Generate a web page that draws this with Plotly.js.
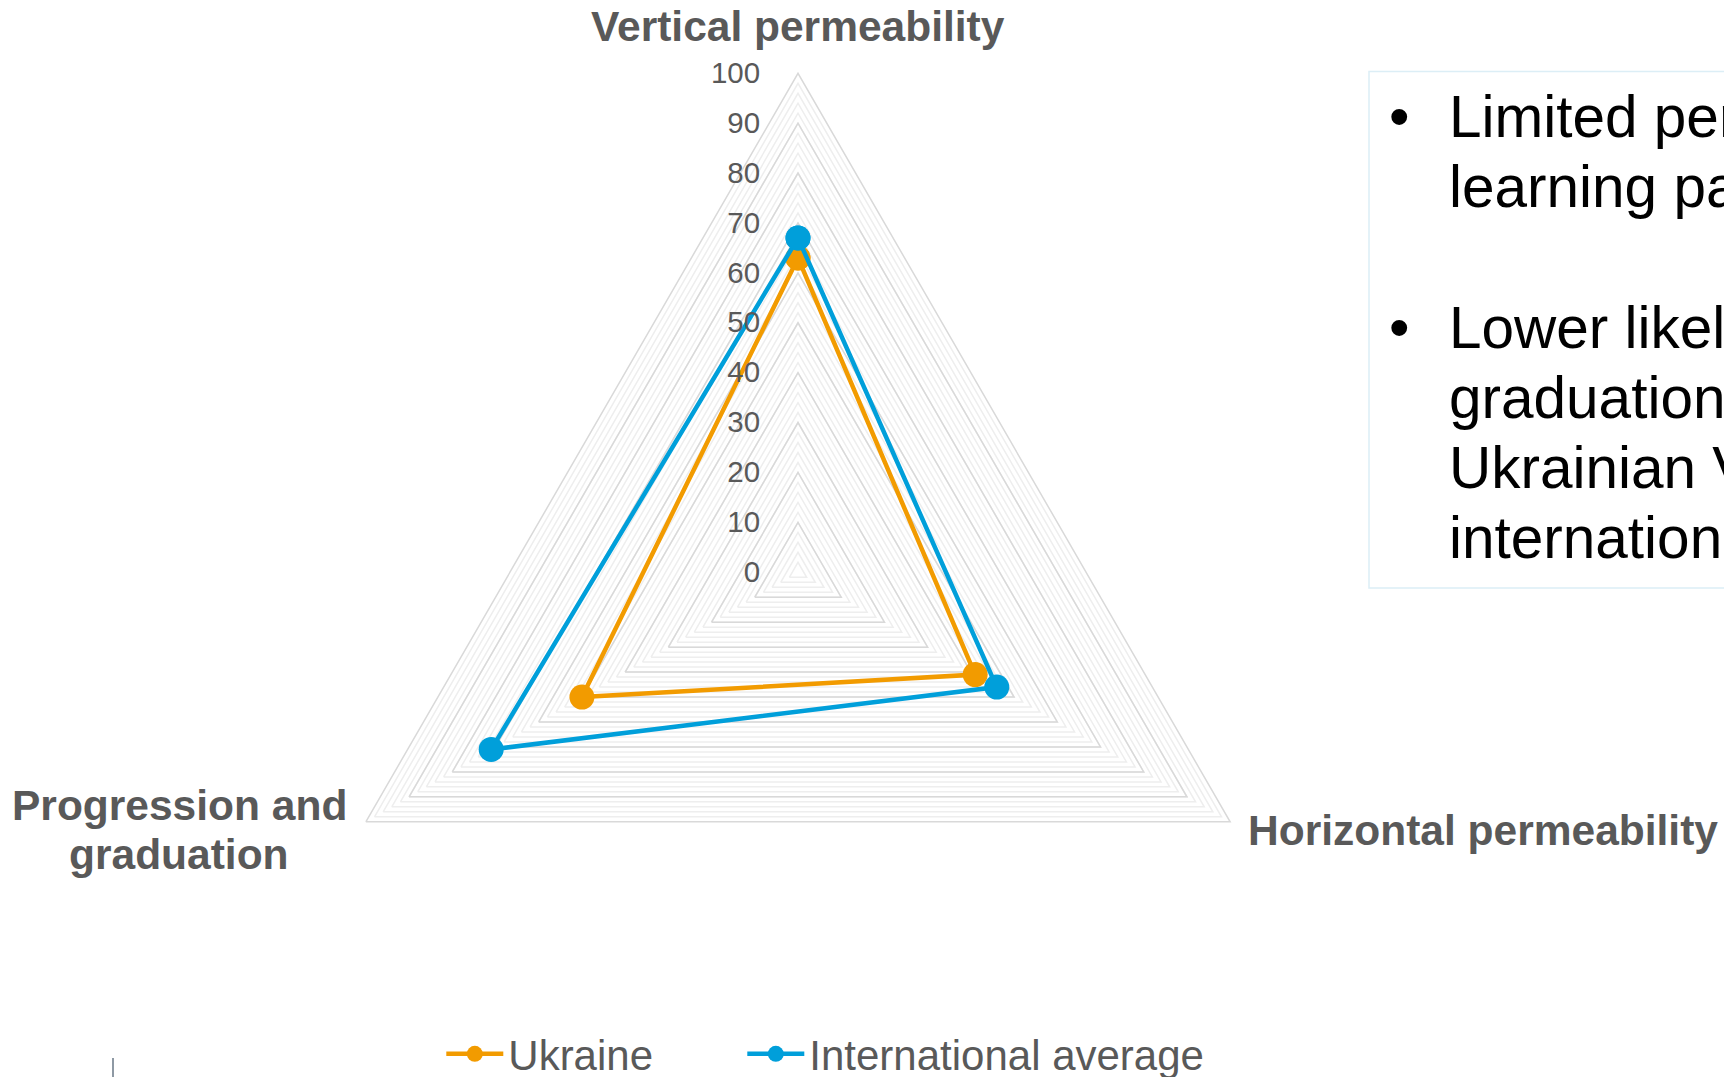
<!DOCTYPE html>
<html>
<head>
<meta charset="utf-8">
<script src="https://cdn.plot.ly/plotly-3.0.1.min.js"></script>
<style>
  html, body { margin: 0; padding: 0; background: #ffffff; overflow: hidden; }
  #chart { width: 1724px; height: 1077px; }
</style>
</head>
<body>
<div id="chart"></div>
<script>
// ---- data ----
const categories = ['Vertical permeability', 'Horizontal permeability', 'Progression and graduation'];
const categoryLabelLines = [['Vertical permeability'], ['Horizontal permeability'], ['Progression and', 'graduation']];
const seriesNames = ['Ukraine', 'International average'];
const ukraine = [63, 41, 50];
const internationalAverage = [67, 46, 71];
const radialTickValues = [0, 10, 20, 30, 40, 50, 60, 70, 80, 90, 100];
const noteLines = [
  'Limited permeability of',
  'learning pathways',
  '',
  'Lower likelihood of',
  'graduation among',
  'Ukrainian VET students than',
  'international average'
];

// ---- page geometry ----
const W = 1724, H = 1077;
const CX = 798, CY = 572.3, R = 499;          // centre and radius of the radar, in px
const px = x => x / W;
const py = y => 1 - y / H;
const domain = { x: [px(CX - R), px(CX + R)], y: [py(CY + R), py(CY - R)] };

const FONT = 'Liberation Sans, Arial, Helvetica, sans-serif';
const GREY_TEXT = '#595959';
const ORANGE = '#F29B00';
const BLUE = '#009FDA';

const closeLoop = arr => arr.concat([arr[0]]);

const traces = [
  // holder for the fine grid subplot (no visible marks)
  {
    type: 'scatterpolar', subplot: 'polar',
    r: categories.map(() => null), theta: categories,
    mode: 'lines', hoverinfo: 'skip', showlegend: false
  },
  {
    type: 'scatterpolar', subplot: 'polar2', name: seriesNames[0], legend: 'legend',
    r: closeLoop(ukraine), theta: closeLoop(categories),
    mode: 'lines+markers',
    line: { color: ORANGE, width: 4.5 },
    marker: { color: ORANGE, size: 25 }
  },
  {
    type: 'scatterpolar', subplot: 'polar2', name: seriesNames[1], legend: 'legend2',
    r: closeLoop(internationalAverage), theta: closeLoop(categories),
    mode: 'lines+markers',
    line: { color: BLUE, width: 4.5 },
    marker: { color: BLUE, size: 25 }
  }
];

const angularBase = {
  type: 'category', categoryorder: 'array', categoryarray: categories,
  rotation: 90, direction: 'clockwise',
  showgrid: false, showticklabels: false, ticks: ''
};

const annotations = [];
// category labels around the radar, one annotation per text line
const catPos = [
  { x: 797.7, ys: [26.5], xanchor: 'center' },
  { x: 1246, ys: [830], xanchor: 'left' },
  { x: 179, ys: [805, 854], xanchor: 'center' }
];
categoryLabelLines.forEach((lines, i) => {
  lines.forEach((t, j) => {
    annotations.push({
      xref: 'paper', yref: 'paper', showarrow: false,
      x: px(catPos[i].x), y: py(catPos[i].ys[j]), xanchor: catPos[i].xanchor, yanchor: 'middle',
      text: '<b>' + t + '</b>',
      font: { family: FONT, size: 42.5, color: GREY_TEXT }
    });
  });
});
// note box text, one line at a time with bullets on paragraph starts
const noteTop = 116.5, noteStep = 70.2;
noteLines.forEach((t, i) => {
  if (!t) return;
  const midY = noteTop + i * noteStep;
  annotations.push({
    xref: 'paper', yref: 'paper', showarrow: false,
    x: px(1447), y: py(midY), xanchor: 'left', yanchor: 'middle',
    text: t, font: { family: FONT, size: 58.5, color: '#000000' }
  });
  if (i === 0 || noteLines[i - 1] === '') {
    annotations.push({
      xref: 'paper', yref: 'paper', showarrow: false,
      x: px(1399), y: py(midY), xanchor: 'center', yanchor: 'middle',
      text: '\u2022', font: { family: FONT, size: 58.5, color: '#000000' }
    });
  }
});

const legendCommon = {
  orientation: 'h', xanchor: 'left', y: py(1020), yanchor: 'top',
  font: { family: FONT, size: 42, color: GREY_TEXT },
  itemwidth: 57, bgcolor: 'rgba(0,0,0,0)', borderwidth: 0
};

const layout = {
  width: W, height: H,
  margin: { l: 0, r: 0, t: 0, b: 0, autoexpand: false },
  paper_bgcolor: '#ffffff',
  font: { family: FONT, color: GREY_TEXT },
  showlegend: true,
  legend: Object.assign({}, legendCommon, { x: px(441.3) }),
  legend2: Object.assign({}, legendCommon, { x: px(742.3) }),
  polar: {
    domain: domain, gridshape: 'linear', bgcolor: '#ffffff',
    radialaxis: {
      range: [0, 100], tick0: 0, dtick: 2, showgrid: true,
      gridcolor: '#eeeeee', gridwidth: 1.5,
      showline: false, showticklabels: false, ticks: ''
    },
    angularaxis: Object.assign({}, angularBase, { showline: false })
  },
  polar2: {
    domain: domain, gridshape: 'linear', bgcolor: 'rgba(0,0,0,0)',
    radialaxis: {
      range: [0, 100], tickmode: 'array', tickvals: radialTickValues,
      angle: 90, side: 'counterclockwise', tickangle: 90,
      showgrid: true, gridcolor: '#d9d9d9', gridwidth: 1.5,
      showline: false, ticks: 'outside', ticklen: 27, tickcolor: 'rgba(0,0,0,0)',
      tickfont: { family: FONT, size: 29.5, color: GREY_TEXT }
    },
    angularaxis: Object.assign({}, angularBase, {
      showline: true, linecolor: '#d9d9d9', linewidth: 1.5
    })
  },
  shapes: [
    // note box frame
    { type: 'rect', xref: 'paper', yref: 'paper',
      x0: px(1369), x1: px(1800), y0: py(588), y1: py(71.5),
      line: { color: '#DCEEF6', width: 1.5 }, fillcolor: 'rgba(0,0,0,0)' },
    // small rule at lower left
    { type: 'line', xref: 'paper', yref: 'paper',
      x0: px(113), x1: px(113), y0: py(1058), y1: py(1080),
      line: { color: '#8E99A4', width: 2 } }
  ],
  annotations: annotations
};

Plotly.newPlot('chart', traces, layout, { displayModeBar: false, staticPlot: true });
</script>
</body>
</html>
